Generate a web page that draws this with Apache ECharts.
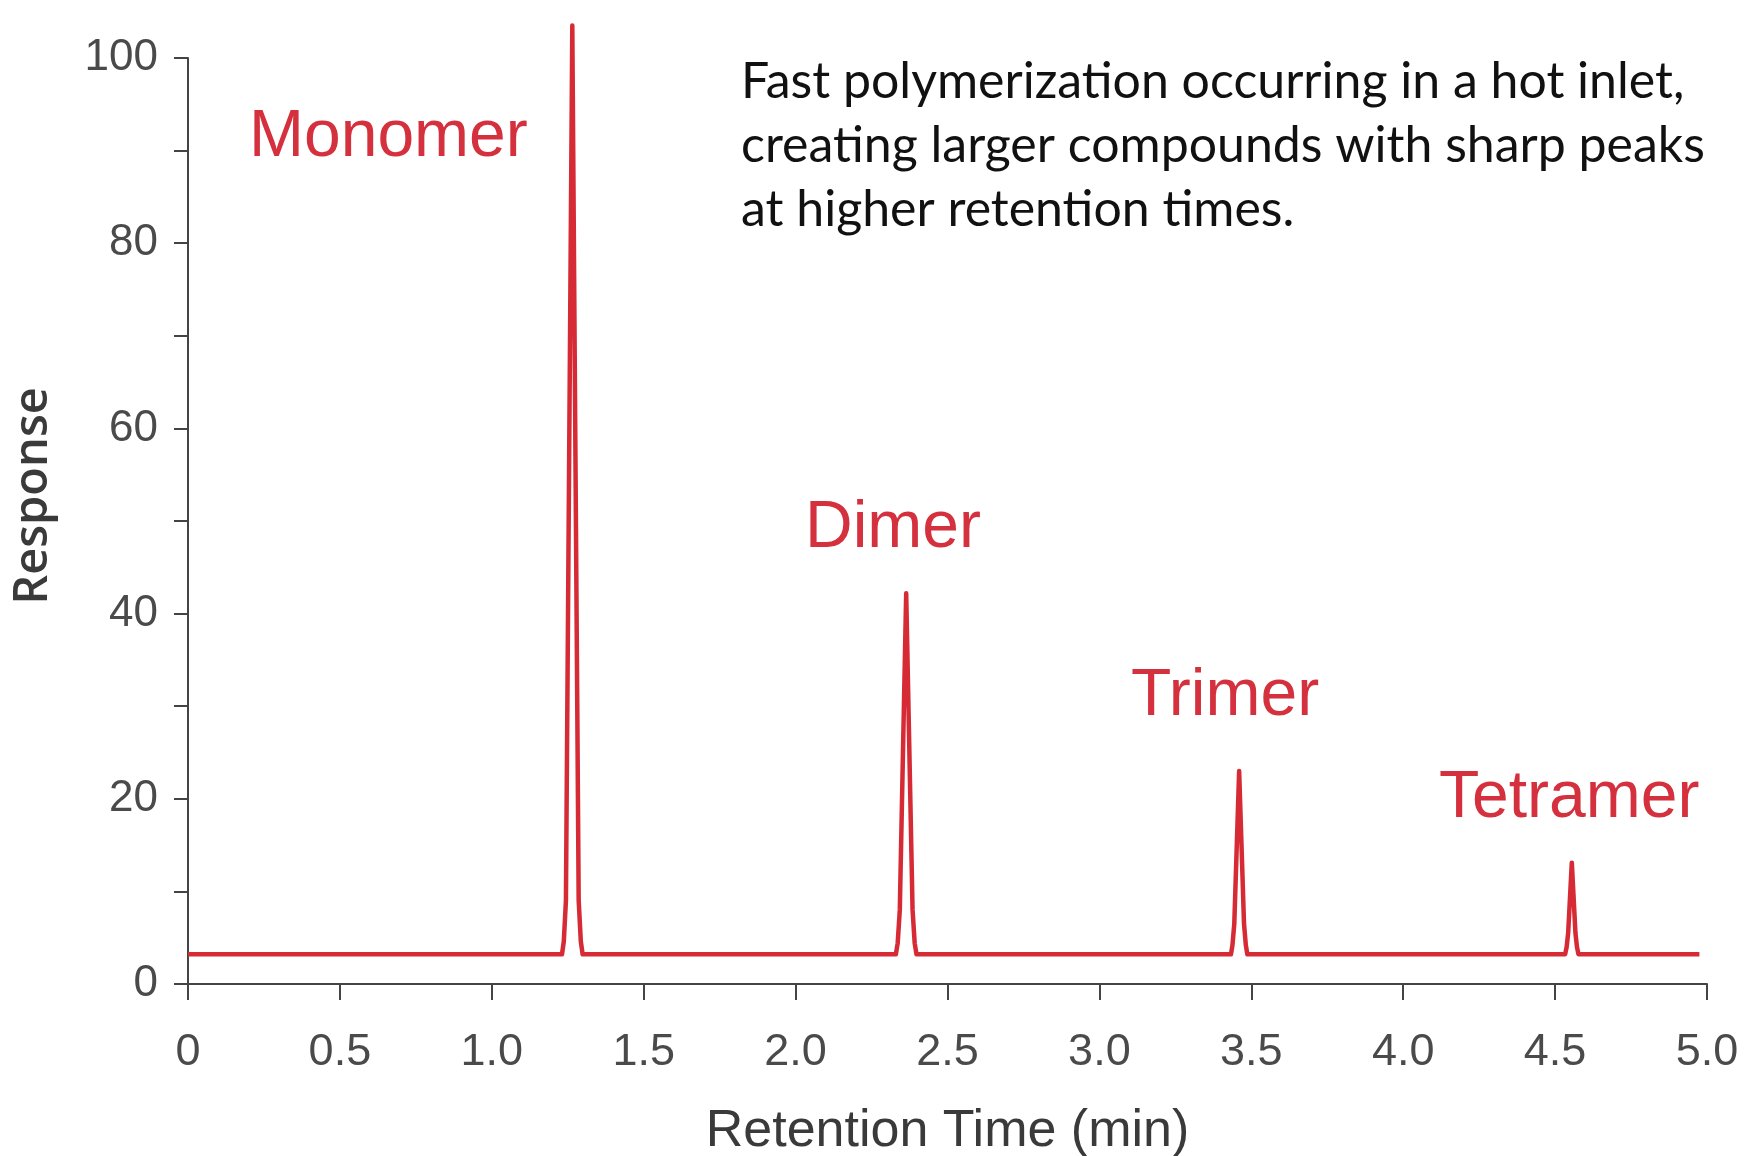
<!DOCTYPE html>
<html>
<head>
<meta charset="utf-8">
<script src="https://cdn.jsdelivr.net/npm/echarts@6/dist/echarts.min.js"></script>
<style>
html,body{margin:0;padding:0;background:#fff;}
#chart{width:1756px;height:1156px;}
</style>
</head>
<body>
<div id="chart"></div>
<script>
// Chromatogram trace: retention time (min) and response
const retentionTime = [0, 1.231, 1.237, 1.244, 1.265, 1.286, 1.293, 1.299,
  2.330, 2.336, 2.343, 2.364, 2.385, 2.392, 2.398,
  3.433, 3.438, 3.444, 3.460, 3.476, 3.482, 3.487,
  4.533, 4.538, 4.543, 4.555, 4.567, 4.572, 4.577, 4.975];
const response = [3.2, 3.2, 4.6, 9, 103.5, 9, 4.6, 3.2,
  3.2, 4.4, 8, 42.2, 8, 4.4, 3.2,
  3.2, 4.2, 6.5, 23.0, 6.5, 4.2, 3.2,
  3.2, 4.0, 5.5, 13.1, 5.5, 4.0, 3.2, 3.2];

const peakNames = ['Monomer', 'Dimer', 'Trimer', 'Tetramer'];
const xTickLabels = ['0', '0.5', '1.0', '1.5', '2.0', '2.5', '3.0', '3.5', '4.0', '4.5', '5.0'];
const yTickLabels = ['0', '20', '40', '60', '80', '100'];
const noteLines = ['Fast polymerization occurring in a hot inlet,',
  'creating larger compounds with sharp peaks',
  'at higher retention times.'];

const traceData = retentionTime.map((t, i) => [t, response[i]]);

const chart = echarts.init(document.getElementById('chart'));
const red = '#d62a35';
const labelRed = '#d4303d';
const labelPos = [[249, 140], [805, 531], [1131, 699], [1439, 801]];

chart.setOption({
  backgroundColor: '#ffffff',
  animation: false,
  grid: {left: 188, right: 49, top: 58, bottom: 172, containLabel: false, outerBoundsMode: 'none'},
  xAxis: {
    type: 'value', min: 0, max: 5, interval: 0.5,
    name: 'Retention Time (min)', nameLocation: 'middle', nameGap: 122,
    nameTextStyle: {fontFamily: 'Liberation Sans', fontSize: 52, color: '#3a3a3a'},
    axisLine: {show: true, lineStyle: {color: '#444', width: 2}},
    axisTick: {show: true, length: 16, lineStyle: {color: '#444', width: 2}},
    axisLabel: {
      margin: 46, fontFamily: 'Liberation Sans', fontSize: 45, color: '#4a4a4a',
      formatter: v => xTickLabels[Math.round(v / 0.5)]
    },
    splitLine: {show: false}
  },
  yAxis: {
    type: 'value', min: 0, max: 100, interval: 10,
    axisLine: {show: true, lineStyle: {color: '#444', width: 2}},
    axisTick: {show: true, length: 14, lineStyle: {color: '#444', width: 2}},
    axisLabel: {
      margin: 30, fontFamily: 'Liberation Sans', fontSize: 44, color: '#4a4a4a',
      formatter: v => (v % 20 === 0 ? yTickLabels[v / 20] : '')
    },
    splitLine: {show: false}
  },
  series: [{
    type: 'line',
    data: traceData,
    showSymbol: false,
    clip: false,
    lineStyle: {color: red, width: 4.5, join: 'round'},
    itemStyle: {color: red}
  }],
  graphic: peakNames.map((n, i) => ({
    type: 'text', left: labelPos[i][0], top: labelPos[i][1] - 35,
    style: {text: n, fill: labelRed, font: '66px "Liberation Sans"'}
  })).concat([{
    type: 'text', left: 741, top: 50,
    style: {text: noteLines.join('\n'), fill: '#111', font: '50px Lato', lineHeight: 64}
  }, {
    type: 'text', x: 34, y: 496, rotation: Math.PI / 2,
    style: {text: 'Response', fill: '#3a3a3a', font: '600 47px "Open Sans"',
      textAlign: 'center', textVerticalAlign: 'middle'}
  }])
});
</script>
</body>
</html>
